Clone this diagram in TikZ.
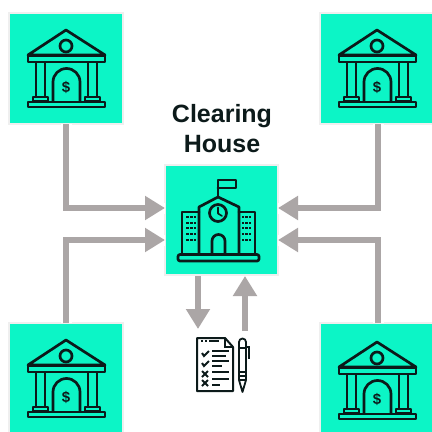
\documentclass[tikz,border=0pt]{standalone}
\usepackage{fontspec}
\setmainfont{Liberation Sans}
\usetikzlibrary{arrows.meta,calc}
\definecolor{mint}{HTML}{0CF5C6}
\definecolor{ink}{HTML}{0C1A1A}
\definecolor{flow}{HTML}{ABA6A6}
\definecolor{halo}{HTML}{EFEFEF}
\tikzset{
  tile/.style={draw=halo,line width=2pt,fill=mint,minimum width=#1,inner sep=0pt,outer sep=0pt},
  icon/.style={draw=ink,line width=2.7pt,line join=round,line cap=round},
  thin icon/.style={draw=ink,line width=1.6pt,line join=round},
  flowline/.style={draw=flow,line width=6pt,-{Triangle[length=20pt,width=23pt,fill=flow]},
     preaction={draw=white,line width=11pt,-}},
  bank/.pic={
    \draw[icon,fill=mint] (66,30)--(28,55)--(105,55)--cycle;
    \draw[icon] (66,46) circle (6);
    \draw[icon] (28,56) rectangle (105,62);
    \draw[icon] (36,62) rectangle (45,97);
    \draw[icon] (88,62) rectangle (97,97);
    \draw[icon] (33,97) rectangle (48,101);
    \draw[icon] (85,97) rectangle (100,101);
    \draw[icon] (53,101)--(53,82) arc[start angle=180,end angle=360,radius=13.5]--(80,101);
    \draw[icon] (28,102) rectangle (105,107);
    \node[text=ink,font=\bfseries\fontsize{15}{15}\selectfont,inner sep=0pt] (dollar) at (66,87) {\$};
  },
}
\begin{document}
\begin{tikzpicture}[x=1pt,y=-1pt]
\useasboundingbox (0,0) rectangle (432,432);
\fill[white] (0,0) rectangle (432,432);
% clearing-house label
\node[font=\bfseries\fontsize{25}{30}\selectfont,align=center,text=ink,inner sep=0pt] (title) at (222,129) {Clearing\\House};
% tiles
\node[tile=114pt,minimum height=111pt,anchor=north west] (tl) at (9,13) {};
\node[tile=114pt,minimum height=111pt,anchor=north west] (tr) at (320,13) {};
\node[tile=114pt,minimum height=111pt,anchor=north west] (bl) at (9,323) {};
\node[tile=114pt,minimum height=111pt,anchor=north west] (br) at (320,323) {};
\node[tile=113pt,minimum height=110pt,anchor=north west] (cc) at (165,165) {};
\node[minimum width=58pt,minimum height=58pt,inner sep=0pt,anchor=north west] (doc) at (193,335) {};
% ports
\coordinate (cw1) at ($(cc.west)+(0,-12)$);
\coordinate (cw2) at ($(cc.west)+(0,20)$);
\coordinate (ce1) at ($(cc.east)+(0,-12)$);
\coordinate (ce2) at ($(cc.east)+(0,20)$);
\coordinate (cs1) at (198,276);
\coordinate (cs2) at (245,276);
\coordinate (ds1) at (198,329);
\coordinate (ds2) at (245,331);
% connectors
\draw[flowline] (tl.south) |- (cw1);
\draw[flowline] (bl.north) |- (cw2);
\draw[flowline] ($(tr.south)+(1,0)$) |- (ce1);
\draw[flowline] ($(br.north)+(1,0)$) |- (ce2);
\draw[flowline] (cs1) -- (ds1);
\draw[flowline] (ds2) -- (cs2);
% bank icons
\pic at (0,0) {bank};
\pic at (311,0) {bank};
\pic at (0,310) {bank};
\pic at (311,312) {bank};
% school icon
\draw[icon] (218,197)--(218,180)--(236,180)--(236,188)--(218,188);
\draw[icon] (199,253)--(199,207)--(218,197)--(239,207)--(239,253);
\draw[icon] (199,212)--(182,212)--(182,253);
\draw[icon] (239,212)--(255,212)--(255,253);
\draw[icon] (218,213) circle (8.5);
\draw[thin icon,line cap=round] (218,207.5)--(218,213.5)--(222,216);
\draw[icon] (212,253)--(212,241) arc[start angle=180,end angle=360,radius=6.5]--(225,253);
\draw[icon,rounded corners=2pt] (178,254.5) rectangle (259,261);
\foreach \wx in {187.5,191.5,195,243,246.5,250}
  \foreach \wy in {217,223,228,234,240}
    \fill[ink] (\wx-1.2,\wy-1.2) rectangle (\wx+1.2,\wy+1.2);
% document icon
\draw[draw=ink,line width=2pt,line join=round,fill=white] (197,338)--(225,338)--(233,347)--(233,391)--(197,391)--cycle;
\draw[draw=ink,line width=1.4pt] (225,338)--(225,347)--(233,347);
\foreach \y/\xa/\xb in {341/201/203,341/205/207,341/209/219,351/212/229,356/212/226,361/212/229,366/212/222,372/212/229,379/212/229,385/212/220}
  \draw[ink,line width=2pt] (\xa,\y)--(\xb,\y);
\draw[ink,line width=2pt] (202,353)--(204,356)--(209,351);
\draw[ink,line width=2pt] (202,363)--(204,366)--(209,361);
\draw[ink,line width=2pt] (202,371)--(208,377) (208,371)--(202,377);
\draw[ink,line width=2pt] (202,380)--(208,386) (208,380)--(202,386);
\draw[draw=ink,line width=1.8pt,line join=round,fill=white] (239,342) arc[start angle=180,end angle=360,radius=3.5]--(246,380)--(242.5,392)--(239,380)--cycle;
\draw[ink,line width=1.4pt] (246,347)--(249,347)--(249,359);
\draw[ink,line width=1.4pt] (239,348)--(246,348) (239,372)--(246,372) (239,376)--(246,376) (239,380)--(246,380);
\end{tikzpicture}
\end{document}
